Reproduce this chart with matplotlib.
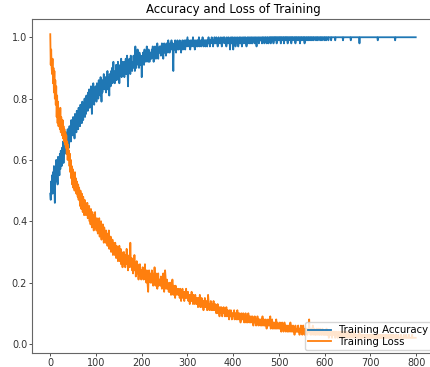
#!/usr/bin/env python3
"""Training accuracy / loss curves over 800 epochs."""

import matplotlib
matplotlib.use("Agg")
import matplotlib.pyplot as plt
import numpy as np

# values, 20 epochs per line
train_acc = [
    0.49, 0.47, 0.53, 0.50, 0.55, 0.49, 0.56, 0.52, 0.58, 0.51, 0.46, 0.57, 0.55, 0.60, 0.53, 0.58, 0.52, 0.61, 0.56, 0.59,
    0.55, 0.62, 0.57, 0.63, 0.60, 0.58, 0.64, 0.61, 0.66, 0.59, 0.63, 0.67, 0.62, 0.65, 0.69, 0.63, 0.67, 0.64, 0.70, 0.66,
    0.68, 0.64, 0.71, 0.67, 0.70, 0.66, 0.73, 0.69, 0.71, 0.68, 0.74, 0.70, 0.72, 0.67, 0.75, 0.71, 0.73, 0.69, 0.76, 0.72,
    0.74, 0.70, 0.77, 0.73, 0.75, 0.71, 0.78, 0.74, 0.76, 0.72, 0.79, 0.75, 0.73, 0.78, 0.76, 0.80, 0.74, 0.78, 0.75, 0.81,
    0.77, 0.80, 0.76, 0.82, 0.79, 0.83, 0.77, 0.81, 0.78, 0.84, 0.80, 0.75, 0.82, 0.79, 0.85, 0.81, 0.78, 0.83, 0.80, 0.84,
    0.82, 0.79, 0.85, 0.81, 0.83, 0.80, 0.86, 0.82, 0.84, 0.81, 0.87, 0.83, 0.79, 0.85, 0.82, 0.86, 0.84, 0.88, 0.83, 0.85,
    0.84, 0.87, 0.82, 0.86, 0.85, 0.89, 0.83, 0.87, 0.85, 0.81, 0.88, 0.86, 0.84, 0.89, 0.86, 0.90, 0.85, 0.88, 0.92, 0.87,
    0.88, 0.85, 0.89, 0.87, 0.91, 0.86, 0.89, 0.88, 0.92, 0.87, 0.90, 0.85, 0.89, 0.91, 0.88, 0.93, 0.87, 0.90, 0.89, 0.92,
    0.89, 0.91, 0.87, 0.92, 0.90, 0.93, 0.88, 0.91, 0.94, 0.89, 0.84, 0.92, 0.90, 0.93, 0.91, 0.88, 0.94, 0.90, 0.92, 0.89,
    0.92, 0.90, 0.94, 0.91, 0.93, 0.89, 0.97, 0.92, 0.90, 0.94, 0.92, 0.96, 0.91, 0.93, 0.90, 0.95, 0.92, 0.94, 0.91, 0.93,
    0.87, 0.94, 0.92, 0.95, 0.93, 0.91, 0.96, 0.93, 0.95, 0.92, 0.94, 0.97, 0.93, 0.95, 0.92, 0.96, 0.94, 0.92, 0.95, 0.93,
    0.95, 0.93, 0.96, 0.94, 0.97, 0.95, 0.92, 0.96, 0.94, 0.97, 0.95, 0.93, 0.96, 0.94, 0.98, 0.95, 0.93, 0.96, 0.95, 0.97,
    0.95, 0.97, 0.94, 0.96, 0.98, 0.95, 0.97, 0.93, 0.96, 0.98, 0.95, 0.97, 0.96, 0.94, 0.98, 0.96, 0.97, 0.95, 0.99, 0.96,
    0.97, 0.95, 0.98, 0.96, 0.97, 0.99, 0.96, 0.98, 0.95, 0.89, 0.97, 0.98, 0.96, 0.99, 0.97, 0.95, 0.98, 0.97, 0.99, 0.96,
    0.98, 0.96, 0.97, 0.99, 0.97, 0.98, 0.95, 0.98, 0.97, 0.99, 0.96, 0.98, 0.97, 0.99, 0.98, 0.96, 0.99, 0.97, 0.98, 0.99,
    1.00, 0.97, 0.98, 0.99, 0.97, 0.98, 0.96, 0.99, 0.98, 0.97, 0.99, 0.98, 1.00, 0.97, 0.98, 0.99, 0.96, 0.98, 0.99, 0.97,
    0.98, 0.99, 0.97, 0.99, 0.98, 1.00, 0.97, 0.98, 0.99, 0.98, 0.97, 0.99, 0.98, 1.00, 0.98, 0.97, 0.99, 0.98, 0.99, 0.97,
    0.99, 0.98, 0.99, 0.97, 0.99, 0.98, 1.00, 0.98, 0.99, 0.97, 0.99, 0.98, 0.99, 1.00, 0.98, 0.99, 0.97, 0.99, 0.98, 1.00,
    0.99, 0.98, 0.99, 1.00, 0.98, 0.99, 0.97, 0.99, 1.00, 0.98, 0.99, 0.99, 0.98, 1.00, 0.99, 0.97, 0.99, 0.98, 1.00, 0.99,
    0.99, 1.00, 0.98, 0.99, 0.99, 0.97, 1.00, 0.99, 0.98, 0.99, 1.00, 0.98, 0.99, 0.96, 0.99, 1.00, 0.98, 0.99, 1.00, 0.99,
    0.96, 0.99, 1.00, 0.98, 0.99, 0.97, 1.00, 0.99, 0.98, 0.99, 1.00, 0.97, 0.99, 0.98, 1.00, 0.99, 0.98, 1.00, 0.99, 0.97,
    0.99, 1.00, 0.98, 0.99, 1.00, 0.99, 0.98, 1.00, 0.99, 0.97, 0.99, 1.00, 0.98, 0.99, 1.00, 0.99, 0.98, 1.00, 0.99, 0.98,
    1.00, 0.99, 0.98, 1.00, 0.99, 0.99, 1.00, 0.98, 0.99, 1.00, 0.99, 0.97, 1.00, 0.99, 0.99, 1.00, 0.98, 0.99, 1.00, 0.99,
    0.99, 1.00, 0.99, 0.98, 1.00, 0.99, 1.00, 0.99, 0.98, 1.00, 0.99, 1.00, 0.99, 0.98, 1.00, 0.99, 1.00, 0.98, 0.99, 1.00,
    0.99, 1.00, 0.98, 1.00, 0.99, 1.00, 0.99, 1.00, 0.98, 1.00, 0.99, 1.00, 1.00, 0.99, 1.00, 0.98, 1.00, 0.99, 1.00, 0.99,
    1.00, 0.99, 1.00, 1.00, 0.98, 1.00, 0.99, 1.00, 1.00, 0.99, 1.00, 0.98, 1.00, 1.00, 0.99, 1.00, 1.00, 0.99, 1.00, 0.98,
    1.00, 1.00, 0.99, 1.00, 1.00, 0.99, 1.00, 0.98, 1.00, 1.00, 0.99, 1.00, 1.00, 1.00, 0.99, 1.00, 0.98, 1.00, 1.00, 0.99,
    1.00, 1.00, 0.99, 1.00, 1.00, 1.00, 0.98, 1.00, 1.00, 0.99, 1.00, 1.00, 1.00, 0.99, 1.00, 1.00, 0.98, 1.00, 1.00, 1.00,
    1.00, 0.99, 1.00, 1.00, 0.99, 1.00, 1.00, 1.00, 0.99, 1.00, 1.00, 1.00, 0.99, 1.00, 1.00, 1.00, 0.99, 1.00, 1.00, 1.00,
    1.00, 0.99, 1.00, 1.00, 1.00, 0.99, 1.00, 1.00, 1.00, 1.00, 0.99, 1.00, 1.00, 1.00, 0.99, 1.00, 1.00, 1.00, 1.00, 0.99,
    1.00, 1.00, 1.00, 0.99, 1.00, 1.00, 1.00, 1.00, 0.99, 1.00, 1.00, 1.00, 1.00, 1.00, 0.99, 1.00, 1.00, 1.00, 1.00, 1.00,
    1.00, 1.00, 1.00, 0.99, 1.00, 1.00, 1.00, 1.00, 1.00, 1.00, 1.00, 1.00, 1.00, 1.00, 1.00, 1.00, 1.00, 1.00, 1.00, 1.00,
    0.99, 1.00, 1.00, 1.00, 1.00, 1.00, 1.00, 1.00, 1.00, 1.00, 1.00, 1.00, 1.00, 1.00, 1.00, 1.00, 1.00, 0.99, 1.00, 1.00,
    1.00, 1.00, 1.00, 1.00, 1.00, 1.00, 1.00, 1.00, 1.00, 1.00, 1.00, 1.00, 1.00, 1.00, 1.00, 1.00, 0.98, 1.00, 1.00, 1.00,
    1.00, 1.00, 1.00, 1.00, 1.00, 1.00, 1.00, 1.00, 1.00, 1.00, 1.00, 1.00, 1.00, 1.00, 1.00, 1.00, 1.00, 1.00, 1.00, 1.00,
    1.00, 1.00, 1.00, 1.00, 1.00, 1.00, 1.00, 1.00, 1.00, 1.00, 1.00, 1.00, 1.00, 1.00, 1.00, 1.00, 0.99, 1.00, 1.00, 1.00,
    1.00, 1.00, 1.00, 1.00, 1.00, 1.00, 1.00, 1.00, 1.00, 1.00, 1.00, 1.00, 1.00, 1.00, 1.00, 1.00, 1.00, 1.00, 1.00, 1.00,
    1.00, 1.00, 1.00, 1.00, 1.00, 1.00, 1.00, 1.00, 1.00, 1.00, 1.00, 1.00, 1.00, 1.00, 0.99, 1.00, 1.00, 1.00, 1.00, 1.00,
    1.00, 1.00, 1.00, 1.00, 1.00, 1.00, 1.00, 1.00, 1.00, 1.00, 1.00, 1.00, 1.00, 1.00, 1.00, 1.00, 1.00, 1.00, 1.00, 1.00,
    1.00, 1.00, 1.00, 1.00, 1.00, 1.00, 1.00, 1.00, 1.00, 1.00, 1.00, 1.00, 1.00, 1.00, 1.00, 1.00, 1.00, 1.00, 1.00, 1.00,
]

train_loss = [
    1.01, 0.91, 0.96, 0.90, 0.88, 0.93, 0.85, 0.90, 0.82, 0.89, 0.80, 0.86, 0.78, 0.84, 0.74, 0.81, 0.72, 0.79, 0.71, 0.76,
    0.72, 0.70, 0.77, 0.69, 0.74, 0.71, 0.68, 0.73, 0.67, 0.71, 0.66, 0.70, 0.65, 0.69, 0.64, 0.68, 0.62, 0.66, 0.60, 0.65,
    0.61, 0.63, 0.58, 0.62, 0.56, 0.60, 0.54, 0.58, 0.52, 0.57, 0.51, 0.55, 0.53, 0.50, 0.56, 0.51, 0.54, 0.49, 0.53, 0.50,
    0.48, 0.52, 0.47, 0.51, 0.49, 0.45, 0.50, 0.47, 0.44, 0.49, 0.46, 0.43, 0.48, 0.45, 0.42, 0.47, 0.44, 0.46, 0.42, 0.45,
    0.43, 0.46, 0.41, 0.44, 0.42, 0.45, 0.40, 0.43, 0.39, 0.44, 0.41, 0.38, 0.43, 0.40, 0.42, 0.37, 0.41, 0.39, 0.43, 0.38,
    0.40, 0.37, 0.41, 0.38, 0.36, 0.40, 0.37, 0.41, 0.35, 0.38, 0.36, 0.40, 0.34, 0.38, 0.35, 0.39, 0.37, 0.33, 0.38, 0.35,
    0.36, 0.33, 0.37, 0.34, 0.36, 0.32, 0.35, 0.33, 0.37, 0.31, 0.34, 0.32, 0.35, 0.30, 0.33, 0.31, 0.34, 0.29, 0.33, 0.31,
    0.32, 0.29, 0.33, 0.30, 0.28, 0.32, 0.29, 0.31, 0.27, 0.30, 0.28, 0.32, 0.27, 0.29, 0.31, 0.26, 0.30, 0.28, 0.25, 0.29,
    0.27, 0.30, 0.26, 0.28, 0.25, 0.29, 0.27, 0.31, 0.26, 0.28, 0.24, 0.27, 0.25, 0.29, 0.26, 0.33, 0.27, 0.25, 0.28, 0.24,
    0.26, 0.23, 0.27, 0.25, 0.29, 0.24, 0.26, 0.22, 0.25, 0.27, 0.23, 0.26, 0.24, 0.21, 0.25, 0.23, 0.26, 0.22, 0.24, 0.21,
    0.24, 0.22, 0.25, 0.23, 0.21, 0.24, 0.22, 0.26, 0.21, 0.23, 0.20, 0.24, 0.22, 0.19, 0.17, 0.22, 0.24, 0.21, 0.23, 0.20,
    0.22, 0.20, 0.24, 0.21, 0.23, 0.19, 0.22, 0.20, 0.25, 0.21, 0.19, 0.23, 0.20, 0.22, 0.18, 0.21, 0.23, 0.19, 0.21, 0.20,
    0.21, 0.19, 0.22, 0.20, 0.18, 0.21, 0.19, 0.23, 0.20, 0.17, 0.21, 0.24, 0.22, 0.18, 0.20, 0.21, 0.18, 0.20, 0.19, 0.17,
    0.19, 0.17, 0.20, 0.18, 0.16, 0.19, 0.17, 0.21, 0.18, 0.16, 0.19, 0.17, 0.18, 0.15, 0.19, 0.17, 0.18, 0.16, 0.18, 0.17,
    0.18, 0.16, 0.17, 0.15, 0.18, 0.16, 0.14, 0.17, 0.16, 0.18, 0.15, 0.17, 0.16, 0.14, 0.17, 0.15, 0.16, 0.18, 0.15, 0.16,
    0.15, 0.17, 0.14, 0.16, 0.15, 0.13, 0.16, 0.14, 0.15, 0.17, 0.14, 0.15, 0.13, 0.16, 0.14, 0.15, 0.13, 0.16, 0.14, 0.15,
    0.13, 0.15, 0.14, 0.12, 0.15, 0.13, 0.14, 0.16, 0.12, 0.14, 0.13, 0.15, 0.12, 0.14, 0.13, 0.11, 0.14, 0.13, 0.15, 0.12,
    0.13, 0.12, 0.14, 0.11, 0.13, 0.16, 0.14, 0.12, 0.11, 0.13, 0.12, 0.14, 0.11, 0.12, 0.13, 0.11, 0.12, 0.14, 0.11, 0.12,
    0.11, 0.13, 0.12, 0.10, 0.12, 0.11, 0.13, 0.10, 0.12, 0.11, 0.09, 0.12, 0.11, 0.10, 0.12, 0.11, 0.09, 0.11, 0.10, 0.12,
    0.10, 0.11, 0.09, 0.11, 0.10, 0.12, 0.09, 0.10, 0.11, 0.09, 0.10, 0.08, 0.11, 0.10, 0.09, 0.11, 0.10, 0.08, 0.10, 0.09,
    0.10, 0.09, 0.11, 0.08, 0.10, 0.09, 0.10, 0.08, 0.09, 0.11, 0.08, 0.10, 0.09, 0.08, 0.10, 0.09, 0.07, 0.09, 0.10, 0.08,
    0.09, 0.08, 0.10, 0.08, 0.07, 0.09, 0.08, 0.10, 0.07, 0.08, 0.09, 0.07, 0.08, 0.10, 0.08, 0.07, 0.09, 0.08, 0.07, 0.09,
    0.08, 0.07, 0.09, 0.08, 0.06, 0.08, 0.07, 0.09, 0.07, 0.08, 0.06, 0.08, 0.07, 0.09, 0.07, 0.06, 0.08, 0.07, 0.08, 0.06,
    0.07, 0.08, 0.06, 0.07, 0.09, 0.06, 0.07, 0.08, 0.06, 0.07, 0.06, 0.08, 0.07, 0.05, 0.07, 0.06, 0.08, 0.06, 0.07, 0.06,
    0.07, 0.09, 0.05, 0.07, 0.06, 0.08, 0.05, 0.06, 0.07, 0.05, 0.06, 0.07, 0.05, 0.06, 0.08, 0.05, 0.06, 0.07, 0.05, 0.06,
    0.06, 0.05, 0.07, 0.05, 0.06, 0.04, 0.06, 0.07, 0.05, 0.06, 0.04, 0.05, 0.07, 0.05, 0.06, 0.04, 0.05, 0.06, 0.05, 0.04,
    0.06, 0.05, 0.04, 0.06, 0.05, 0.07, 0.04, 0.05, 0.06, 0.04, 0.05, 0.06, 0.04, 0.05, 0.03, 0.05, 0.06, 0.04, 0.05, 0.04,
    0.05, 0.04, 0.06, 0.04, 0.05, 0.03, 0.05, 0.04, 0.06, 0.04, 0.05, 0.03, 0.04, 0.06, 0.04, 0.05, 0.03, 0.04, 0.05, 0.04,
    0.04, 0.05, 0.03, 0.04, 0.05, 0.04, 0.08, 0.04, 0.05, 0.03, 0.04, 0.05, 0.03, 0.04, 0.06, 0.04, 0.03, 0.05, 0.04, 0.03,
    0.04, 0.03, 0.05, 0.04, 0.03, 0.04, 0.05, 0.03, 0.04, 0.03, 0.05, 0.04, 0.03, 0.04, 0.03, 0.05, 0.04, 0.03, 0.04, 0.03,
    0.04, 0.03, 0.04, 0.03, 0.05, 0.03, 0.04, 0.03, 0.04, 0.02, 0.04, 0.03, 0.04, 0.03, 0.04, 0.03, 0.02, 0.04, 0.03, 0.04,
    0.03, 0.04, 0.03, 0.02, 0.04, 0.03, 0.04, 0.03, 0.02, 0.03, 0.04, 0.03, 0.02, 0.03, 0.04, 0.03, 0.03, 0.02, 0.04, 0.03,
    0.03, 0.02, 0.04, 0.03, 0.03, 0.02, 0.03, 0.04, 0.03, 0.02, 0.03, 0.03, 0.04, 0.02, 0.03, 0.03, 0.02, 0.03, 0.04, 0.03,
    0.02, 0.03, 0.03, 0.02, 0.03, 0.04, 0.02, 0.03, 0.03, 0.02, 0.03, 0.02, 0.03, 0.03, 0.02, 0.03, 0.04, 0.02, 0.03, 0.02,
    0.03, 0.02, 0.03, 0.02, 0.03, 0.03, 0.02, 0.03, 0.02, 0.03, 0.02, 0.03, 0.03, 0.02, 0.03, 0.02, 0.02, 0.03, 0.02, 0.03,
    0.02, 0.03, 0.02, 0.03, 0.02, 0.02, 0.03, 0.02, 0.03, 0.02, 0.02, 0.03, 0.02, 0.02, 0.03, 0.02, 0.03, 0.02, 0.02, 0.03,
    0.02, 0.02, 0.03, 0.02, 0.02, 0.03, 0.02, 0.02, 0.03, 0.02, 0.02, 0.02, 0.03, 0.02, 0.02, 0.03, 0.02, 0.02, 0.02, 0.03,
    0.02, 0.02, 0.02, 0.03, 0.02, 0.02, 0.02, 0.03, 0.02, 0.02, 0.02, 0.03, 0.02, 0.02, 0.02, 0.02, 0.03, 0.02, 0.02, 0.02,
    0.02, 0.03, 0.02, 0.02, 0.02, 0.02, 0.02, 0.03, 0.02, 0.02, 0.02, 0.02, 0.02, 0.03, 0.02, 0.02, 0.02, 0.02, 0.03, 0.02,
    0.02, 0.02, 0.02, 0.02, 0.03, 0.02, 0.02, 0.02, 0.02, 0.02, 0.02, 0.03, 0.02, 0.02, 0.02, 0.02, 0.02, 0.02, 0.02, 0.02,
]

series_labels = ["Training Accuracy", "Training Loss"]
title = "Accuracy and Loss of Training"


def main() -> None:
    epochs = np.arange(len(train_acc))

    fig = plt.figure(figsize=(4.31, 3.67), dpi=100)
    ax = fig.add_axes([32 / 431, 14 / 367, 402 / 431, 334 / 367])

    ax.plot(epochs, train_acc, color="#1f77b4", linewidth=1.3, label=series_labels[0])
    ax.plot(epochs, train_loss, color="#ff7f0e", linewidth=1.3, label=series_labels[1])

    ax.set_xticks(np.arange(0, 801, 100))
    ax.set_yticks(np.arange(0, 1.01, 0.2))
    ax.tick_params(labelsize=7, colors="#333333", length=2, width=0.6, pad=1.5)
    for spine in ax.spines.values():
        spine.set_color("#666666")
        spine.set_linewidth(0.8)
        spine.set_linestyle((0, (1, 1)))

    ax.set_title(title, fontsize=8.5, pad=4)
    ax.legend(loc="lower right", fontsize=7.3, handlelength=2.2, borderpad=0.3,
              labelspacing=0.15, borderaxespad=0.3)

    fig.savefig("out.png", dpi=100)
    plt.close(fig)


if __name__ == "__main__":
    main()
